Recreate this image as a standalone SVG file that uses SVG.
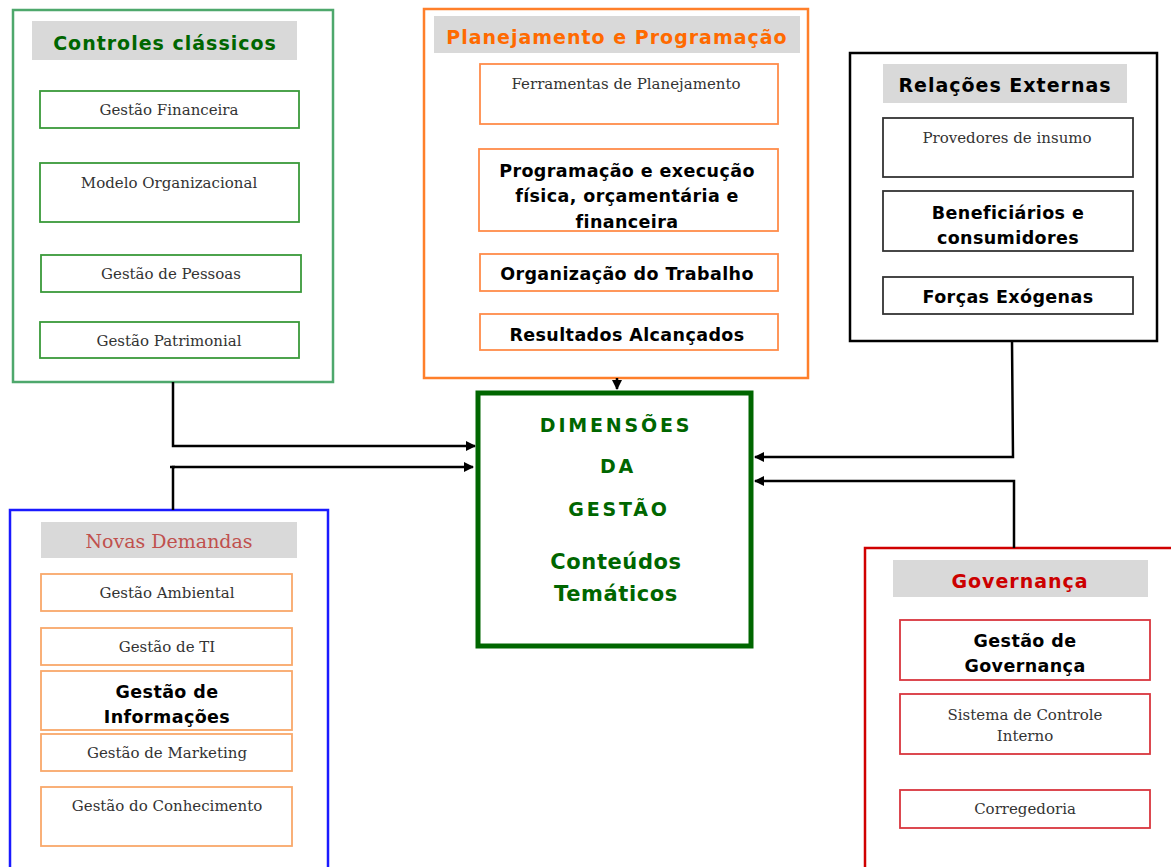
<svg xmlns="http://www.w3.org/2000/svg" width="1171" height="867" viewBox="0 0 1171 867">
<defs>
<style>
.hdr{fill:#d9d9d9}
.ser{font-family:"DejaVu Serif","Liberation Serif",serif;font-size:15px;fill:#333;text-anchor:middle}
.bld{font-family:"DejaVu Sans","Liberation Sans",sans-serif;font-size:17.5px;font-weight:bold;fill:#000;text-anchor:middle;letter-spacing:0.4px}
.ttl{font-family:"DejaVu Sans","Liberation Sans",sans-serif;font-size:19px;font-weight:bold;text-anchor:middle;letter-spacing:1px}
.ctr{font-family:"DejaVu Sans","Liberation Sans",sans-serif;font-weight:bold;fill:#006600;text-anchor:middle}
.conn{fill:none;stroke:#000;stroke-width:2.5}
</style>
<marker id="ah" markerWidth="10" markerHeight="10" refX="9" refY="5" orient="auto" markerUnits="userSpaceOnUse"><path d="M0,0 L10,5 L0,10 z" fill="#000"/></marker>
</defs>
<rect width="1171" height="867" fill="#fff"/>

<g id="controles">
<rect x="13" y="10" width="320" height="372" fill="#fff" stroke="#4ea86c" stroke-width="2.5"/>
<rect class="hdr" x="32" y="21" width="265" height="39"/>
<text class="ttl" x="165" y="50" fill="#006600">Controles clássicos</text>
<g fill="#fff" stroke="#3a9a3a" stroke-width="1.8">
<rect x="40" y="91" width="259" height="37"/>
<rect x="40" y="163" width="259" height="59"/>
<rect x="41" y="255" width="260" height="37"/>
<rect x="40" y="322" width="259" height="36"/>
</g>
<text class="ser" x="169" y="115">Gestão Financeira</text>
<text class="ser" x="169" y="188">Modelo Organizacional</text>
<text class="ser" x="171" y="279">Gestão de Pessoas</text>
<text class="ser" x="169" y="346">Gestão Patrimonial</text>
</g>

<g id="planejamento">
<rect x="424" y="9" width="384" height="369" fill="#fff" stroke="#ff7f2a" stroke-width="2.5"/>
<rect class="hdr" x="434" y="16" width="366" height="37"/>
<text class="ttl" x="617" y="44" fill="#ff6a00">Planejamento e Programação</text>
<g fill="#fff" stroke="#ff8c4a" stroke-width="1.8">
<rect x="480" y="64" width="298" height="60"/>
<rect x="479" y="149" width="299" height="82"/>
<rect x="480" y="254" width="298" height="37"/>
<rect x="480" y="314" width="298" height="36"/>
</g>
<text class="ser" x="626" y="89">Ferramentas  de Planejamento</text>
<text class="bld" x="627" y="177">Programação e execução</text>
<text class="bld" x="627" y="202">física, orçamentária e</text>
<text class="bld" x="627" y="228">financeira</text>
<text class="bld" x="627" y="280">Organização do Trabalho</text>
<text class="bld" x="627" y="341">Resultados Alcançados</text>
</g>

<g id="relacoes">
<rect x="850" y="53" width="307" height="288" fill="#fff" stroke="#000" stroke-width="2.5"/>
<rect class="hdr" x="883" y="64" width="244" height="39"/>
<text class="ttl" x="1005" y="92" fill="#000">Relações Externas</text>
<g fill="#fff" stroke="#333" stroke-width="1.8">
<rect x="883" y="118" width="250" height="59"/>
<rect x="883" y="191" width="250" height="60"/>
<rect x="883" y="277" width="250" height="37"/>
</g>
<text class="ser" x="1007" y="143">Provedores  de insumo</text>
<text class="bld" x="1008" y="219">Beneficiários e</text>
<text class="bld" x="1008" y="244">consumidores</text>
<text class="bld" x="1008" y="303">Forças Exógenas</text>
</g>

<g id="novas">
<rect x="10" y="510" width="318" height="370" fill="#fff" stroke="#1a1aff" stroke-width="2.5"/>
<rect class="hdr" x="41" y="522" width="256" height="36"/>
<text x="169" y="548" font-family="'DejaVu Serif','Liberation Serif',serif" font-size="19px" fill="#c0504d" text-anchor="middle">Novas Demandas</text>
<g fill="#fff" stroke="#f9a86a" stroke-width="1.8">
<rect x="41" y="574" width="251" height="37"/>
<rect x="41" y="628" width="251" height="37"/>
<rect x="41" y="671" width="251" height="59"/>
<rect x="41" y="734" width="251" height="37"/>
<rect x="41" y="787" width="251" height="59"/>
</g>
<text class="ser" x="167" y="598">Gestão Ambiental</text>
<text class="ser" x="167" y="652">Gestão de TI</text>
<text class="bld" x="167" y="698">Gestão de</text>
<text class="bld" x="167" y="723">Informações</text>
<text class="ser" x="167" y="758">Gestão de Marketing</text>
<text class="ser" x="167" y="811">Gestão do Conhecimento</text>
</g>

<g id="dimensoes">
<rect x="478" y="393" width="273" height="253" fill="#fff" stroke="#006600" stroke-width="5"/>
<text class="ctr" x="616" y="432" font-size="19px" letter-spacing="2.8px">DIMENSÕES</text>
<text class="ctr" x="618" y="473" font-size="19px" letter-spacing="2.8px">DA</text>
<text class="ctr" x="619" y="516" font-size="19px" letter-spacing="2.8px">GESTÃO</text>
<text class="ctr" x="616" y="569" font-size="21px" letter-spacing="0.6px">Conteúdos</text>
<text class="ctr" x="616" y="601" font-size="21px" letter-spacing="0.6px">Temáticos</text>
</g>

<g id="governanca">
<rect x="865" y="548" width="320" height="330" fill="#fff" stroke="#d00000" stroke-width="2.5"/>
<rect class="hdr" x="893" y="560" width="255" height="37"/>
<text class="ttl" x="1020" y="588" fill="#cc0000">Governança</text>
<g fill="#fff" stroke="#d9363e" stroke-width="1.8">
<rect x="900" y="620" width="250" height="60"/>
<rect x="900" y="694" width="250" height="60"/>
<rect x="900" y="790" width="250" height="38"/>
</g>
<text class="bld" x="1025" y="647">Gestão de</text>
<text class="bld" x="1025" y="672">Governança</text>
<text class="ser" x="1025" y="720">Sistema de Controle</text>
<text class="ser" x="1025" y="741">Interno</text>
<text class="ser" x="1025" y="814">Corregedoria</text>
</g>

<g id="connectors">
<path class="conn" d="M173,382 V446 H475" marker-end="url(#ah)"/>
<path class="conn" d="M173,510 V467 H473" marker-end="url(#ah)"/>
<path class="conn" d="M170,467 H175"/>
<path class="conn" d="M617,378 V389" marker-end="url(#ah)"/>
<path class="conn" d="M1012,341 L1013,457 H755" marker-end="url(#ah)"/>
<path class="conn" d="M1014,548 V481 H755" marker-end="url(#ah)"/>
</g>
</svg>
